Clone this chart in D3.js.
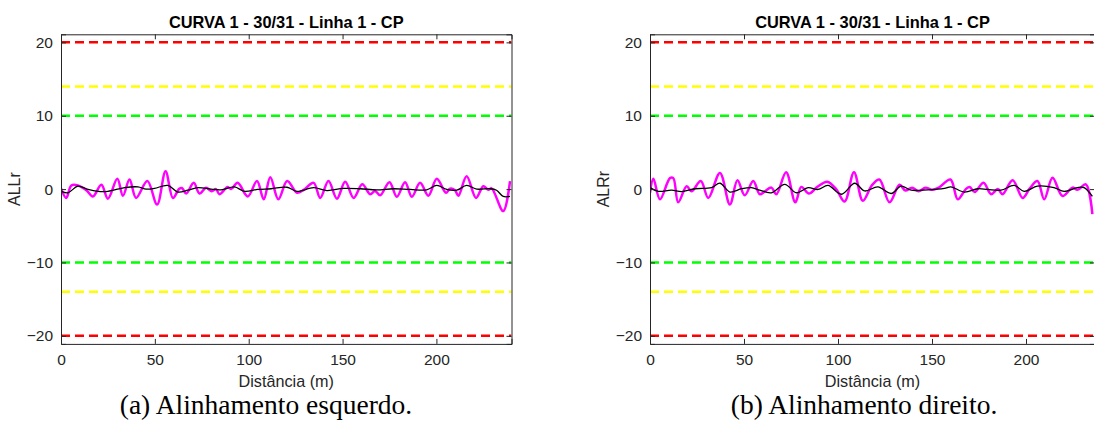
<!DOCTYPE html>
<html><head><meta charset="utf-8">
<script src="https://cdn.jsdelivr.net/npm/d3@7"></script>
<style>body{margin:0;background:#fff}svg{display:block}</style>
</head><body>
<svg id="chart" width="1094" height="440"></svg>
<script>
const chartTitle = "CURVA 1 - 30/31 - Linha 1 - CP";
const xLabel = "Distância (m)";
const yLabels = ["ALLr", "ALRr"];
const captions = ["(a) Alinhamento esquerdo.", "(b) Alinhamento direito."];
const xTicks = [0, 50, 100, 150, 200];
const yTicks = [-20, -10, 0, 10, 20];
const limitValues = [20, 14, 10, -10, -14, -20];
const limitColors = ["#ff0000", "#ffff00", "#00ff00", "#00ff00", "#ffff00", "#ff0000"];

// [distance (m), value]
const leftRaw = [[0,0.1],[2.8,-1.2],[5.5,0.5],[9,0.5],[13.5,-0.15],[17,-1.0],[21.5,0.6],[25,-1.3],[30,1.4],[33,-0.9],[36.5,1.3],[40,-1.2],[46,1.1],[51.2,-2.1],[55.7,2.45],[59.6,-1.2],[63,0.05],[64.4,0.15],[66.7,-0.6],[70.7,0.85],[73.8,-0.6],[77.3,0.2],[80.3,-0.3],[82.6,0],[84.4,-0.7],[88.8,0.3],[90.6,0],[94.1,0.85],[99.5,-1.0],[104.4,1.1],[108,-1.4],[111.5,1.6],[115.8,-1.4],[120.5,1.1],[125.7,-0.5],[129.3,-0.1],[134.6,0.85],[138.1,-1.2],[142.5,1.1],[147,-1.3],[151.4,1.0],[155.9,-1.2],[160.5,0.65],[164.7,-0.7],[167.3,-0.25],[170,-0.85],[175,0.95],[178.9,-1.05],[183.3,0.95],[186.9,-1.05],[191.3,0.85],[195.7,-0.9],[200.2,1.4],[205.1,-0.5],[207.2,0.05],[209.9,-0.15],[211.7,-0.9],[216.1,1.75],[221.1,-1.2],[225,0.4],[227.7,-0.1],[229.4,0.1],[235.6,-3.0],[239.2,1.1]];
const leftSmooth = [[0.2,-0.3],[3.7,-0.5],[9,0.4],[14.4,-0.05],[19.7,-0.3],[25,-0.3],[33.9,0.2],[41,0.3],[45.4,0],[49.8,0.1],[56.9,0.5],[62.2,-0.4],[67.6,-0.15],[72.9,0.2],[80,0],[85.3,-0.1],[92.4,0.3],[97.7,-0.3],[104.8,-0.05],[111.9,0.05],[120.4,0.25],[125.7,-0.3],[134.6,0.2],[141.7,-0.2],[150.5,0.1],[159.4,0.05],[168.3,-0.1],[177.1,0.05],[186,-0.05],[194.8,-0.1],[200.2,0.5],[205.5,-0.05],[210.8,-0.15],[216.1,0.5],[221.5,0],[228.6,0.05],[232,-0.15],[235.6,-1.0],[239.2,-1.0]];
const rightRaw = [[0,-0.5],[1.8,1.4],[5.3,-1.4],[10.6,1.5],[12.4,1.5],[15,-1.8],[19.5,0.4],[22.1,-0.3],[27,1.1],[31,-1.2],[37.2,2.2],[42.5,-2.1],[46.5,1.2],[50.4,-0.85],[54.9,1.1],[58.4,-0.7],[61.1,-0.3],[64.6,0.2],[67.2,-0.7],[72.4,2.3],[77.3,-1.8],[80.5,0.3],[84.5,-0.6],[89,0.3],[94.3,1.0],[99,0.0],[103.5,-1.7],[108.5,2.3],[113.2,-1.6],[118,0.5],[122,1.3],[127.4,-1.8],[132.7,0.6],[135.8,-0.2],[139.4,0.2],[142.9,-0.3],[146.5,0.2],[150,-0.1],[153.6,0.2],[159.8,1.3],[163.7,-1.4],[168,0.0],[170,0.3],[172.7,-0.4],[177.4,0.85],[181.4,-0.7],[185,0.0],[187.5,-0.7],[192.9,1.2],[198.2,-1.2],[202,0.1],[206.1,1.1],[209.7,-1.4],[214.1,1.55],[219.4,-0.95],[224.7,0.2],[227.4,-0.1],[231.8,0.65],[235.3,-3.4]];
const rightSmooth = [[0,0.2],[4.4,-0.3],[11.5,-0.15],[16.8,-0.35],[23.9,0.05],[32.7,0.2],[37.2,0.8],[42.5,-0.4],[48.7,0.05],[54,0.2],[58.4,-0.15],[64.6,-0.5],[71.7,0.65],[77.9,-0.5],[84.1,0.2],[89.4,-0.05],[94.7,0.5],[101.8,-0.7],[108.9,0.8],[114.2,-0.25],[121.2,0.3],[128.3,-0.6],[133.6,0.4],[138.9,-0.15],[147.7,-0.1],[156.6,0.1],[160.1,0.3],[167.2,-0.4],[174.3,0.05],[179.6,-0.05],[186.7,-0.15],[193.7,0.5],[199,-0.3],[206.1,0.4],[214.9,0.2],[220.3,-0.3],[227.3,0.2],[230.9,0.2],[235.3,-1.0]];

const panels = [
  {x0: 61, x1: 511.5, xmax: 240, raw: leftRaw, smooth: leftSmooth, ylab: yLabels[0], cap: captions[0], capX: 266},
  {x0: 650, x1: 1095, xmax: 236.7, raw: rightRaw, smooth: rightSmooth, ylab: yLabels[1], cap: captions[1], capX: 864}
];
const yTop = 34.3, yBot = 343.9;
const axisColor = "#262626";
const svg = d3.select("#chart");
const sans = "Liberation Sans, Arial, Helvetica, sans-serif";

panels.forEach(p => {
  const x = d3.scaleLinear().domain([0, p.xmax]).range([p.x0, p.x1]);
  const y = d3.scaleLinear().domain([-21.1, 21.1]).range([yBot, yTop]);
  const g = svg.append("g");
  const clipId = "clip" + p.x0;
  svg.append("clipPath").attr("id", clipId).append("rect")
    .attr("x", p.x0).attr("y", yTop).attr("width", p.x1 - p.x0).attr("height", yBot - yTop);
  const plot = g.append("g").attr("clip-path", `url(#${clipId})`);

  plot.selectAll("line.lim").data(limitValues).join("line")
    .attr("x1", p.x0).attr("x2", p.x1)
    .attr("y1", d => y(d)).attr("y2", d => y(d))
    .attr("stroke", (d, i) => limitColors[i]).attr("stroke-width", 2.5)
    .attr("stroke-dasharray", "9,5");

  const line = d3.line().x(d => x(d[0])).y(d => y(d[1])).curve(d3.curveCatmullRom.alpha(0.5));
  plot.append("path").datum(p.raw).attr("d", line)
    .attr("fill", "none").attr("stroke", "#ff00ff").attr("stroke-width", 2.5);
  plot.append("path").datum(p.smooth).attr("d", line)
    .attr("fill", "none").attr("stroke", "#000").attr("stroke-width", 1.3);

  const axB = g.append("g").attr("transform", `translate(0,${yBot})`)
    .call(d3.axisBottom(x).tickValues(xTicks).tickSize(-5).tickPadding(10).tickFormat(d3.format("d")));
  const axT = g.append("g").attr("transform", `translate(0,${yTop})`)
    .call(d3.axisTop(x).tickValues(xTicks).tickSize(-5).tickFormat(""));
  const axL = g.append("g").attr("transform", `translate(${p.x0},0)`)
    .call(d3.axisLeft(y).tickValues(yTicks).tickSize(-5).tickPadding(8).tickFormat(d3.format("d")));
  const axR = g.append("g").attr("transform", `translate(${p.x1},0)`)
    .call(d3.axisRight(y).tickValues(yTicks).tickSize(-5).tickFormat(""));
  [axB, axT, axL, axR].forEach(a => {
    a.select(".domain").attr("stroke", axisColor).attr("stroke-width", 1);
    a.selectAll(".tick line").attr("stroke", axisColor).attr("stroke-width", 1);
    a.selectAll("text").attr("font-family", sans).attr("font-size", 15.5).attr("fill", axisColor);
  });

  g.append("text").attr("x", (p.x0 + p.x1) / 2).attr("y", 27.5).attr("text-anchor", "middle")
    .attr("font-family", sans).attr("font-weight", "bold").attr("font-size", 16.4).attr("fill", "#000")
    .text(chartTitle);
  g.append("text").attr("x", (p.x0 + p.x1) / 2).attr("y", 387).attr("text-anchor", "middle")
    .attr("font-family", sans).attr("font-size", 16.2).attr("fill", axisColor).text(xLabel);
  g.append("text").attr("transform", `translate(${p.x0 - 41},${y(0)}) rotate(-90)`).attr("text-anchor", "middle")
    .attr("font-family", sans).attr("font-size", 16).attr("fill", axisColor).text(p.ylab);
  g.append("text").attr("x", p.capX).attr("y", 414).attr("text-anchor", "middle")
    .attr("font-family", "Liberation Serif, Times New Roman, serif").attr("font-size", 27.5).attr("fill", "#000")
    .text(p.cap);
});
</script>
</body></html>
